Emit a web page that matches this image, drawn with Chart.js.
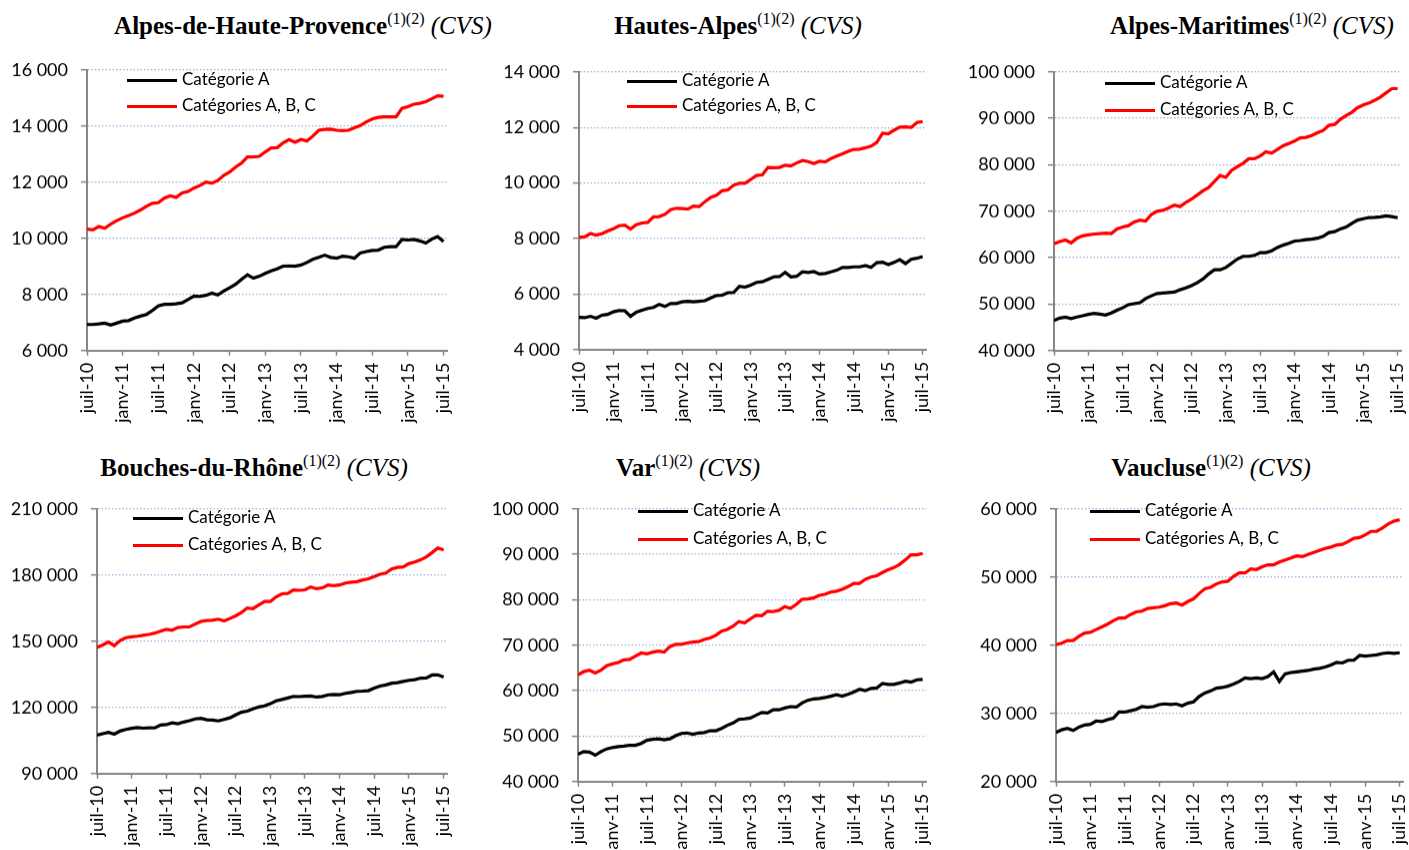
<!DOCTYPE html>
<html>
<head>
<meta charset="utf-8">
<script src="https://cdn.jsdelivr.net/npm/chart.js@4.4.1/dist/chart.umd.min.js"></script>
<style>
  body { margin: 0; background: #fff; }
  #page { position: relative; width: 1409px; height: 850px; overflow: hidden; }
  .chart { position: absolute; }
  .title { position: absolute; transform: translateX(-50%); white-space: nowrap; font-family: 'Liberation Serif', serif; font-size: 25px; font-weight: bold; line-height: 28px; color: #000; }
  .title sup { font-size: 16px; font-weight: normal; vertical-align: baseline; position: relative; top: -10px; }
  .title i { font-weight: normal; }
  .leg-line { position: absolute; width: 50px; height: 3px; }
  .leg-text { position: absolute; font-family: Lato, sans-serif; font-size: 17px; line-height: 20px; color: #000; white-space: nowrap; }
</style>
</head>
<body>
<div id="page"></div>
<script>
const tickLabels = ['juil-10', 'janv-11', 'juil-11', 'janv-12', 'juil-12', 'janv-13', 'juil-13', 'janv-14', 'juil-14', 'janv-15', 'juil-15'];
const seriesNames = ['Catégorie A', 'Catégories A, B, C'];

const ahpA = [6930,6930,6950,6980,6910,6980,7050,7070,7160,7230,
  7290,7430,7590,7650,7650,7670,7700,7820,7940,7930,
  7970,8050,7980,8120,8240,8360,8540,8700,8580,8650,
  8750,8840,8910,9010,9020,9010,9050,9140,9250,9320,
  9400,9320,9290,9360,9340,9290,9480,9530,9570,9580,
  9680,9700,9700,9960,9940,9960,9910,9830,9970,10060,
  9890];
const ahpABC = [10330,10300,10420,10360,10510,10630,10730,10810,10900,11010,
  11140,11250,11270,11430,11510,11460,11620,11670,11790,11880,
  12000,11960,12060,12240,12360,12540,12680,12900,12900,12920,
  13080,13220,13230,13400,13520,13420,13520,13470,13640,13850,
  13880,13890,13850,13840,13850,13940,14020,14150,14250,14310,
  14330,14330,14330,14630,14690,14780,14810,14870,14970,15080,
  15060];

const haA = [5160,5150,5200,5130,5240,5270,5360,5410,5400,5200,
  5350,5420,5480,5520,5630,5550,5660,5660,5720,5740,
  5720,5740,5760,5860,5950,5960,6050,6060,6280,6250,
  6320,6420,6440,6530,6620,6630,6780,6620,6640,6800,
  6780,6810,6720,6740,6800,6860,6960,6960,6980,6980,
  7030,6960,7130,7150,7060,7140,7240,7100,7250,7290,
  7350];
const haABC = [8040,8060,8180,8120,8170,8270,8350,8460,8480,8340,
  8500,8560,8580,8780,8790,8870,9040,9090,9080,9060,
  9170,9150,9330,9480,9560,9720,9750,9920,9990,9990,
  10130,10270,10290,10560,10550,10560,10640,10610,10720,10810,
  10770,10700,10780,10760,10880,10970,11050,11140,11210,11220,
  11270,11330,11460,11790,11770,11900,12010,12020,12000,12180,
  12210];

const amA = [46500,47000,47200,46900,47250,47500,47800,48000,47850,47650,
  48100,48700,49200,49900,50100,50300,51200,51800,52300,52400,
  52500,52600,53100,53500,54000,54600,55400,56500,57400,57400,
  57900,58800,59700,60300,60300,60500,61100,61100,61500,62200,
  62700,63100,63600,63700,63900,64000,64200,64600,65400,65600,
  66200,66600,67400,68100,68400,68650,68700,68800,69000,68850,
  68600];
const amABC = [63000,63500,63800,63200,64200,64700,64900,65100,65200,65300,
  65200,66200,66600,66900,67700,68100,67900,69300,70000,70200,
  70700,71300,71000,71900,72600,73500,74400,75100,76400,77700,
  77300,78800,79600,80300,81300,81300,81900,82800,82500,83300,
  84100,84600,85100,85800,85900,86300,86900,87400,88500,88700,
  89800,90600,91300,92300,92900,93300,93900,94600,95500,96400,
  96400];

const bdrA = [107400,108100,108700,107900,109300,110000,110500,110900,110600,110800,
  110700,112000,112200,113000,112600,113400,114000,114800,115100,114400,
  114300,113900,114600,115300,116600,117800,118300,119300,120200,120700,
  121700,123000,123600,124300,125000,124900,125100,125200,124700,125000,
  125700,125900,125800,126400,126800,127300,127400,127600,128800,129700,
  130200,131000,131200,131800,132300,132600,133300,133400,134700,134800,
  133800];
const bdrABC = [147200,148300,149600,148000,150300,151600,152000,152300,152700,153100,
  153700,154600,155400,155000,156200,156500,156500,157800,159000,159400,
  159500,160000,159200,160300,161500,163000,165100,164800,166400,168000,
  168000,170100,171500,171700,173300,173100,173300,174600,173800,174200,
  175500,175200,175500,176400,176800,177000,177800,178300,179300,180400,
  180900,182800,183500,183700,185200,185900,186900,188300,190200,192300,
  191400];

const varA = [46000,46600,46500,45800,46600,47200,47500,47700,47800,48000,
  48000,48400,49100,49300,49400,49200,49400,50100,50600,50700,
  50400,50700,50800,51200,51200,51700,52400,52900,53700,53800,
  54000,54600,55200,55100,55800,55800,56200,56500,56400,57300,
  57900,58200,58300,58500,58800,59100,58800,59200,59700,60300,
  60000,60500,60600,61600,61400,61400,61700,62100,61900,62400,
  62500];
const varABC = [63500,64200,64500,63900,64500,65500,65900,66200,66800,66900,
  67600,68300,68100,68500,68700,68500,69700,70200,70200,70500,
  70700,70800,71300,71600,72200,73100,73500,74200,75200,74900,
  75800,76600,76500,77500,77400,77700,78500,78100,79000,80100,
  80200,80400,81000,81200,81700,81900,82300,82900,83600,83600,
  84500,85000,85300,86000,86600,87100,87800,88800,89900,89900,
  90200];

const vauA = [27200,27600,27800,27500,28000,28300,28400,28900,28800,29100,
  29300,30200,30200,30400,30600,31000,30900,31000,31300,31400,
  31300,31400,31100,31500,31700,32500,33000,33300,33700,33800,
  34000,34300,34700,35200,35100,35200,35100,35400,36100,34700,
  35800,36000,36100,36200,36300,36500,36600,36800,37100,37500,
  37400,37800,37800,38500,38400,38500,38600,38800,38900,38800,
  38900];
const vauABC = [40100,40300,40700,40700,41300,41800,41900,42300,42700,43100,
  43600,44000,44000,44500,44900,45000,45400,45500,45600,45800,
  46100,46200,45900,46400,46800,47600,48300,48500,49000,49300,
  49400,50100,50600,50600,51200,51100,51500,51800,51800,52200,
  52500,52800,53100,53000,53300,53600,53900,54200,54400,54700,
  54800,55200,55700,55800,56200,56700,56700,57200,57800,58200,
  58400];

document.addEventListener("DOMContentLoaded", function () {
  var page = document.getElementById("page");

  var panels = [
    { name: 'Alpes-de-Haute-Provence', a: ahpA, abc: ahpABC, min: 6000, max: 16000, step: 2000,
      rect: [87, 70, 447, 350], titleX: 303, titleTop: 12, legend: [127, 80, 106] },
    { name: 'Hautes-Alpes', a: haA, abc: haABC, min: 4000, max: 14000, step: 2000,
      rect: [579, 72, 926, 349], titleX: 738, titleTop: 12, legend: [627, 81, 106] },
    { name: 'Alpes-Maritimes', a: amA, abc: amABC, min: 40000, max: 100000, step: 10000,
      rect: [1054, 72, 1401, 350], titleX: 1252, titleTop: 12, legend: [1105, 83, 110] },
    { name: 'Bouches-du-Rhône', a: bdrA, abc: bdrABC, min: 90000, max: 210000, step: 30000,
      rect: [97, 509, 447, 773], titleX: 254, titleTop: 454, legend: [133, 518, 545] },
    { name: 'Var', a: varA, abc: varABC, min: 40000, max: 100000, step: 10000,
      rect: [578, 509, 926, 781], titleX: 688, titleTop: 454, legend: [638, 511, 539] },
    { name: 'Vaucluse', a: vauA, abc: vauABC, min: 20000, max: 60000, step: 10000,
      rect: [1056, 509, 1403, 781], titleX: 1211, titleTop: 454, legend: [1090, 511, 539] }
  ];

  function fmt(v) {
    return String(v).replace(/\B(?=(\d{3})+(?!\d))/g, ' ');
  }

  function toPoints(arr) {
    return arr.map((v, i) => ({ x: i, y: v }));
  }

  var tickFont = { family: 'Lato', size: 18 };
  var axisGrey = '#868686';

  panels.forEach(function (p) {
    var L = p.rect[0], T = p.rect[1], R = p.rect[2], B = p.rect[3];
    var padTop = 14, padRight = 14, yW = 90, xH = 80;

    var title = document.createElement("div");
    title.className = "title";
    title.style.left = p.titleX + "px";
    title.style.top = p.titleTop + "px";
    title.innerHTML = p.name + "<sup>(1)(2)</sup> <i>(CVS)</i>";
    page.appendChild(title);

    var wrap = document.createElement("div");
    wrap.className = "chart";
    wrap.style.left = (L - yW) + "px";
    wrap.style.top = (T - padTop) + "px";
    wrap.style.width = (R - L + yW + padRight) + "px";
    wrap.style.height = (B - T + padTop + xH) + "px";
    var canvas = document.createElement("canvas");
    wrap.appendChild(canvas);
    page.appendChild(wrap);

    var chart = new Chart(canvas, {
      type: "line",
      data: {
        datasets: [
          { label: seriesNames[0], data: toPoints(p.a), borderColor: "#000000", borderWidth: 3.2, pointRadius: 0, tension: 0 },
          { label: seriesNames[1], data: toPoints(p.abc), borderColor: "#ff0000", borderWidth: 3.2, pointRadius: 0, tension: 0 }
        ]
      },
      options: {
        responsive: true,
        maintainAspectRatio: false,
        animation: false,
        layout: { padding: { top: padTop, right: padRight, left: 0, bottom: 0 } },
        plugins: { legend: { display: false }, tooltip: { enabled: false } },
        scales: {
          x: {
            type: "linear",
            min: 0,
            max: 60.6,
            afterFit: function (s) { s.height = xH; },
            ticks: {
              stepSize: 6, autoSkip: false, includeBounds: false,
              minRotation: 90, maxRotation: 90, padding: 7,
              color: "#000", font: tickFont,
              callback: function (v) { return tickLabels[v / 6]; }
            },
            grid: { drawOnChartArea: false, tickLength: 5, tickColor: axisGrey, tickWidth: 1.5 },
            border: { color: axisGrey, width: 2 }
          },
          y: {
            min: p.min,
            max: p.max,
            afterFit: function (s) { s.width = yW; },
            ticks: { stepSize: p.step, padding: 13, color: "#000", font: tickFont, callback: fmt },
            grid: { color: "#9db4e2", lineWidth: 1.3, tickLength: 6, tickColor: axisGrey, tickWidth: 1.5 },
            border: { color: axisGrey, width: 2, dash: [1.5, 2] }
          }
        }
      }
    });

    // line the plot area up with the reference box
    var area = chart.chartArea;
    var top = T - area.top;
    var left = L - area.left;
    var h = (B - T) + area.top + (wrap.clientHeight - area.bottom);
    var w = (R - L) + area.left + (wrap.clientWidth - area.right);
    wrap.style.top = top + "px";
    wrap.style.left = left + "px";
    wrap.style.height = h + "px";
    wrap.style.width = w + "px";
    chart.resize();

    var colors = ["#000000", "#ff0000"];
    [p.legend[1], p.legend[2]].forEach(function (y, k) {
      var line = document.createElement("div");
      line.className = "leg-line";
      line.style.left = p.legend[0] + "px";
      line.style.top = (y - 1.5) + "px";
      line.style.background = colors[k];
      page.appendChild(line);
      var txt = document.createElement("div");
      txt.className = "leg-text";
      txt.style.left = (p.legend[0] + 55) + "px";
      txt.style.top = (y - 11) + "px";
      txt.textContent = seriesNames[k];
      page.appendChild(txt);
    });
  });
});
</script>
</body>
</html>
